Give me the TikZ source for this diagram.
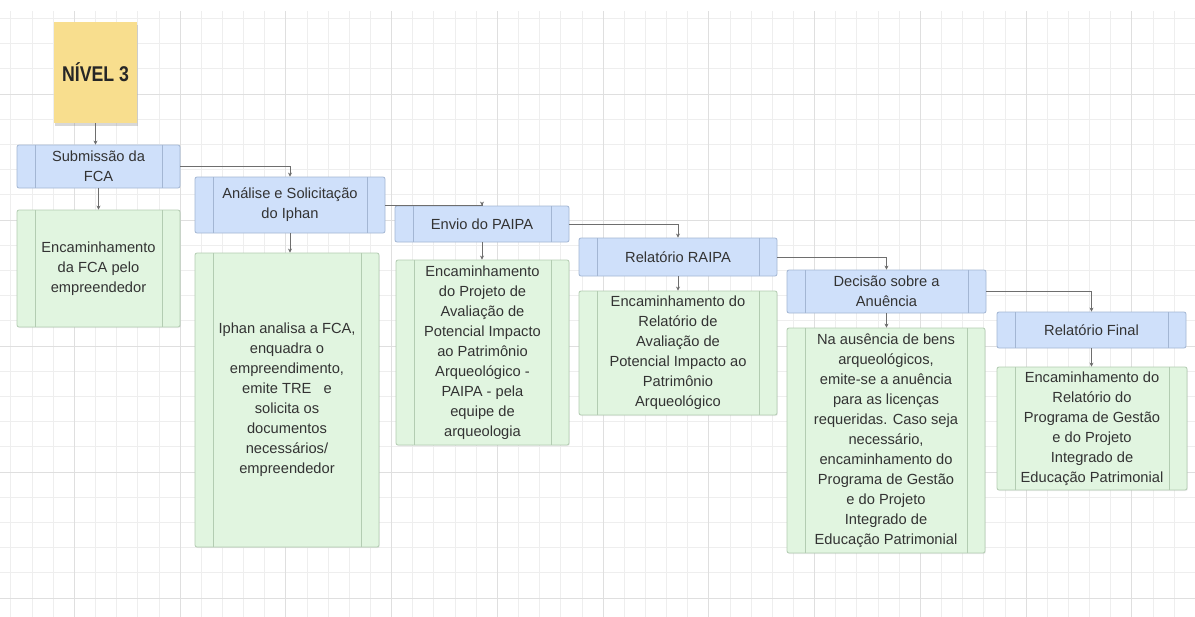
\documentclass[tikz,border=0pt]{standalone}
\usepackage{fontspec}
\setmainfont{Liberation Sans}
\usetikzlibrary{shadows,arrows.meta}
\definecolor{gridminor}{HTML}{EEEEEE}
\definecolor{gridmajor}{HTML}{DFDFDF}
\definecolor{bluefill}{HTML}{CFE0FA}
\definecolor{blueline}{HTML}{A3B6D3}
\definecolor{greenfill}{HTML}{E1F5E0}
\definecolor{greenline}{HTML}{B3CCB2}
\definecolor{stickyfill}{HTML}{F8DE8E}
\definecolor{txt}{HTML}{333333}
\definecolor{connc}{HTML}{6E6E6E}
\tikzset{
  box/.style={draw=#1, rounded corners=1.5pt, line width=0.6pt, inner sep=0pt,
    align=center, text=txt, font=\fontsize{11}{15}\selectfont,
    path picture={\draw[line width=0.5pt, draw=#1]
      ([xshift=13.5pt]path picture bounding box.north west) -- ([xshift=13.5pt]path picture bounding box.south west)
      ([xshift=-13.5pt]path picture bounding box.north east) -- ([xshift=-13.5pt]path picture bounding box.south east);}},
  bluebox/.style={box=blueline, fill=bluefill},
  greenbox/.style={box=greenline, fill=greenfill,
    drop shadow={opacity=0.12, shadow xshift=0.6pt, shadow yshift=-0.8pt}},
  sticky/.style={fill=stickyfill, inner sep=0pt, text=black!85,
    font=\fontsize{16}{18}\selectfont\bfseries,
    drop shadow={opacity=0.3, shadow xshift=1pt, shadow yshift=-2.2pt}},
  conn/.style={draw=connc, line width=0.6pt, -{Stealth[length=3pt,width=3pt]}},
}
\begin{document}
\begin{tikzpicture}[x=0.75pt,y=-0.75pt]
\useasboundingbox[fill=white] (0,0) rectangle (1195,617);
% grid
\begin{scope}
\clip (0,12) rectangle (1195,617);
\foreach \i in {-9,...,49} \draw[gridminor, line width=0.5pt] ({180+21.15*\i},0) -- ({180+21.15*\i},617);
\foreach \j in {-4,...,21} \draw[gridminor, line width=0.5pt] (0,{94+25.2*\j}) -- (1195,{94+25.2*\j});
\foreach \i in {-5,0,...,45} \draw[gridmajor, line width=0.6pt] ({180+21.15*\i},0) -- ({180+21.15*\i},617);
\foreach \j in {-5,0,...,20} \draw[gridmajor, line width=0.6pt] (0,{94+25.2*\j}) -- (1195,{94+25.2*\j});
\end{scope}
% sticky
\node[sticky, minimum width=62.25pt, minimum height=75.75pt] (n3) at (95.5,72.5) {\scalebox{0.83}[1]{NÍVEL 3}};
% blue header boxes
\node[bluebox, minimum width=122.25pt, minimum height=32.25pt] (sub) at (98.5,166.5) {Submissão da\\FCA};
\node[bluebox, minimum width=142.5pt, minimum height=42pt] (ana) at (290,205) {Análise e Solicitação\\do Iphan};
\node[bluebox, minimum width=130.5pt, minimum height=27pt] (env) at (482,224) {Envio do PAIPA};
\node[bluebox, minimum width=148.5pt, minimum height=28.5pt] (rai) at (678,257) {Relatório RAIPA};
\node[bluebox, minimum width=149.25pt, minimum height=32.25pt] (dec) at (886.5,291.5) {Decisão sobre a\\Anuência};
\node[bluebox, minimum width=141.75pt, minimum height=27pt] (fin) at (1091.5,330) {Relatório Final};
% green boxes
\node[greenbox, minimum width=122.25pt, minimum height=87.75pt] (g1) at (98.5,268.5) {Encaminhamento\\da FCA pelo\\empreendedor};
\node[greenbox, minimum width=138pt, minimum height=220.5pt] (g2) at (287,400) {Iphan analisa a FCA,\\enquadra o\\empreendimento,\\emite TRE~~ e\\solicita os\\documentos\\necessários/\\empreendedor};
\node[greenbox, minimum width=129.75pt, minimum height=138.75pt] (g3) at (482.5,352.5) {Encaminhamento\\do Projeto de\\Avaliação de\\Potencial Impacto\\ao Patrimônio\\Arqueológico -\\PAIPA - pela\\equipe de\\arqueologia};
\node[greenbox, minimum width=148.5pt, minimum height=93pt] (g4) at (678,353) {Encaminhamento do\\Relatório de\\Avaliação de\\Potencial Impacto ao\\Patrimônio\\Arqueológico};
\node[greenbox, minimum width=148.5pt, minimum height=168.75pt] (g5) at (886,440.5) {Na ausência de bens\\arqueológicos,\\emite-se a anuência\\para as licenças\\requeridas. Caso seja\\necessário,\\encaminhamento do\\Programa de Gestão\\e do Projeto\\Integrado de\\Educação Patrimonial};
\node[greenbox, minimum width=142.5pt, minimum height=92.25pt] (g6) at (1092,428.5) {Encaminhamento do\\Relatório do\\Programa de Gestão\\e do Projeto\\Integrado de\\Educação Patrimonial};
% connectors
\draw[conn] (n3.south) -- (n3.south |- sub.north);
\draw[conn] (sub.south) -- (sub.south |- g1.north);
\draw[conn] (ana.south) -- (ana.south |- g2.north);
\draw[conn] (env.south) -- (env.south |- g3.north);
\draw[conn] (rai.south) -- (rai.south |- g4.north);
\draw[conn] (dec.south) -- (dec.south |- g5.north);
\draw[conn] (fin.south) -- (fin.south |- g6.north);
\draw[conn] (sub.east) -| (ana.north);
\draw[conn] (ana.east) -| (env.north);
\draw[conn] (env.east) -| (rai.north);
\draw[conn] (rai.east) -| (dec.north);
\draw[conn] (dec.east) -| (fin.north);
\end{tikzpicture}
\end{document}
